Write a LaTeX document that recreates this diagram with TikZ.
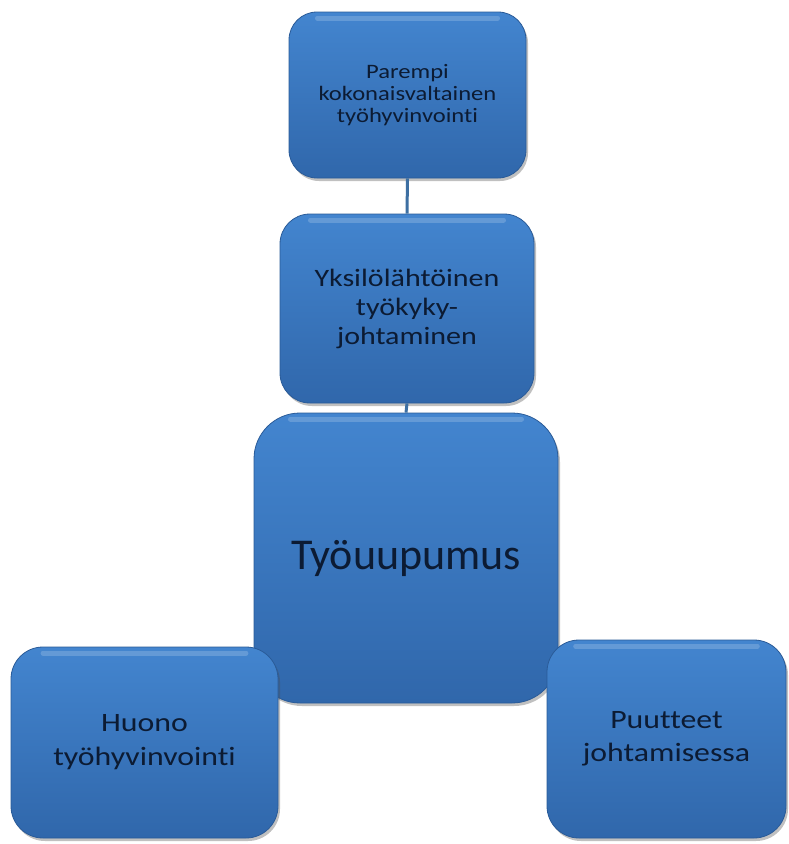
\documentclass[tikz,border=0pt]{standalone}
\usepackage{fontspec}
\setmainfont{Carlito}[RawFeature=-liga]
\newfontfamily\widefont{Carlito}[FakeStretch=1.2,RawFeature=-liga]
\usetikzlibrary{shadows,calc}
\definecolor{boxtop}{HTML}{4385CF}
\definecolor{boxbot}{HTML}{3067AB}
\definecolor{boxedge}{HTML}{2A5B98}
\definecolor{txt}{HTML}{0C1B33}
\definecolor{conn}{HTML}{3D6FA2}
\tikzset{
  box/.style={draw=boxedge, line width=0.8pt, top color=boxtop, bottom color=boxbot,
    inner sep=0pt, align=center, text=txt,
    drop shadow={shadow xshift=2pt, shadow yshift=-3pt, opacity=0.35, fill=black!70},
    path picture={
      \draw[white, opacity=0.18, line width=5pt, line cap=round]
        ($(path picture bounding box.north west)!0.12!(path picture bounding box.north east)+(0,-6pt)$) --
        ($(path picture bounding box.north west)!0.88!(path picture bounding box.north east)+(0,-6pt)$);
    }},
  connector/.style={draw=conn, line width=3pt},
}
\begin{document}
\begin{tikzpicture}[x=1pt,y=-1pt]
\useasboundingbox (0,0) rectangle (788,844);
\fill[white] (0,0) rectangle (788,844);
\node[box, rounded corners=28pt, minimum width=237pt, minimum height=166pt,
  font=\widefont\fontsize{20.5}{22}\selectfont] (top) at (407.5,95)
  {Parempi\\kokonaisvaltainen\\työhyvinvointi};
\node[box, rounded corners=30pt, minimum width=254pt, minimum height=189pt,
  font=\widefont\fontsize{25}{29}\selectfont] (mid) at (407,308.5)
  {Yksilölähtöinen\\työkyky-\\johtaminen};
\draw[connector] (top.south) -- (mid.north);
\node[box, rounded corners=46pt, minimum width=304pt, minimum height=290pt,
  font=\fontsize{44}{50}\selectfont] (big) at (406,558) {Työuupumus};
\draw[connector] (mid.south) -- (big.north);
\node[box, rounded corners=32pt, minimum width=267pt, minimum height=191pt,
  font=\widefont\fontsize{26.5}{34}\selectfont] (left) at (144.5,742.5)
  {Huono\\työhyvinvointi};
\node[box, rounded corners=32pt, minimum width=239pt, minimum height=198pt,
  font=\widefont\fontsize{26.5}{33}\selectfont] (right) at (666.5,739)
  {Puutteet\\johtamisessa};
\end{tikzpicture}
\end{document}
